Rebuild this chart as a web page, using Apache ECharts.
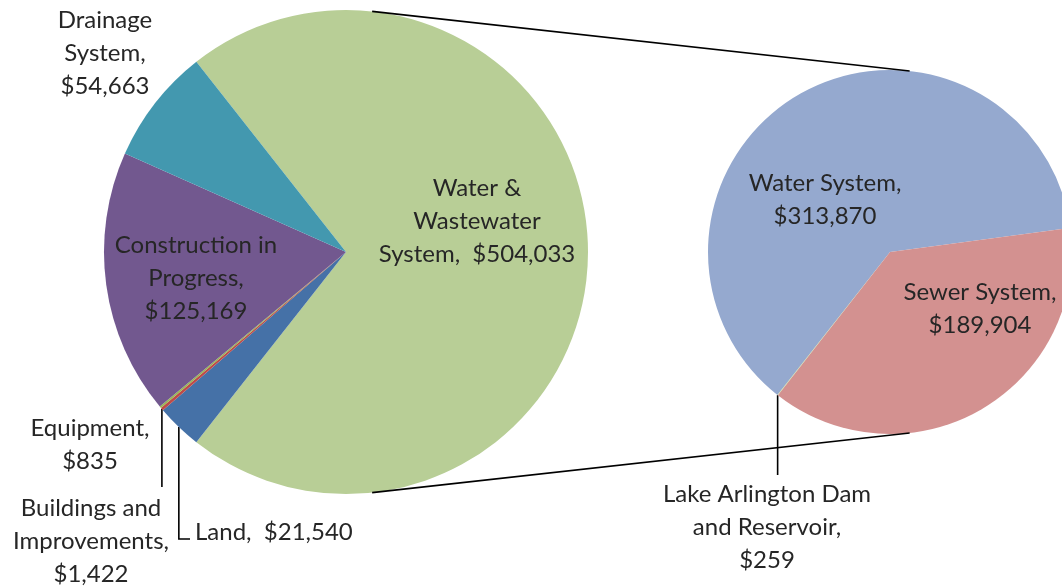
<!DOCTYPE html>
<html>
<head>
<meta charset="utf-8">
<script src="https://cdn.jsdelivr.net/npm/echarts@6/dist/echarts.min.js"></script>
<style>
  html, body { margin: 0; padding: 0; background: #fff; }
  #chart { width: 1062px; height: 586px; }
</style>
</head>
<body>
<div id="chart"></div>
<script>
// capital assets (main pie)
const mainNames = ['Water & Wastewater System', 'Land', 'Buildings and Improvements', 'Equipment', 'Construction in Progress', 'Drainage System'];
const mainValues = [504033, 21540, 1422, 835, 125169, 54663];
const mainLabelText = ['Water &\nWastewater\nSystem,  ', 'Land,  ', 'Buildings and\nImprovements,\n', 'Equipment,\n', 'Construction in\nProgress,\n', 'Drainage\nSystem,\n'];
const mainColors = ['#b8ce96', '#4571a7', '#be4b48', '#98b954', '#72588f', '#4398af'];

// breakdown of water & wastewater (secondary pie)
const subNames = ['Water System', 'Sewer System', 'Lake Arlington Dam and Reservoir'];
const subValues = [313870, 189904, 259];
const subLabelText = ['Water System,\n', 'Sewer System,\n', 'Lake Arlington Dam\nand Reservoir,\n'];
const subColors = ['#95a9cf', '#d39190', '#c3d69b'];

// layout
const MAIN_C = [346, 252], MAIN_R = 242;
const SUB_C = [890, 252], SUB_R = 182;
const CONNECT_DEG = 83.8;
// label anchor: x, y, align, leader line end
const mainLabelPos = [
  [477, 221, 'center'],
  [195, 532, 'left', [[null, 539], [190, 539]]],
  [91, 541, 'center', [[null, 487]]],
  [90, 445, 'center'],
  [196, 278, 'center'],
  [105, 53, 'center']
];
const subLabelPos = [
  [825, 200, 'center'],
  [980, 309, 'center'],
  [767, 527, 'center', [[null, 475]]]
];

const fmt = v => '$' + v.toLocaleString('en-US');

function makeData(names, values, colors, pos) {
  return names.map((n, i) => ({
    name: n,
    value: values[i],
    itemStyle: { color: colors[i] },
    label: { position: pos[i][3] ? 'outside' : 'inside' },
    labelLine: { show: !!pos[i][3] }
  }));
}

function edgePoint(c, r, deg) {
  const a = deg * Math.PI / 180;
  return [c[0] + r * Math.cos(a), c[1] - r * Math.sin(a)];
}

function layoutFor(pos, c, r, values, startAngle) {
  return function (params) {
    const p = pos[params.dataIndex];
    const out = { x: p[0], y: p[1], align: p[2], verticalAlign: 'middle' };
    if (p[3]) {
      let p0 = params.labelLinePoints && params.labelLinePoints[0];
      if (!p0) {
        const total = values.reduce((s, v) => s + v, 0);
        let before = 0;
        for (let k = 0; k < params.dataIndex; k++) before += values[k];
        const mid = startAngle - (before + values[params.dataIndex] / 2) / total * 360;
        p0 = edgePoint(c, r, mid);
      }
      out.labelLinePoints = [p0].concat(p[3].map(q => [q[0] == null ? p0[0] : q[0], q[1]]));
    }
    return out;
  };
}

const labelStyle = {
  fontFamily: 'Lato',
  fontSize: 24,
  lineHeight: 33,
  color: '#262626'
};

const chart = echarts.init(document.getElementById('chart'));
const topA = edgePoint(MAIN_C, MAIN_R, CONNECT_DEG), topB = edgePoint(SUB_C, SUB_R, CONNECT_DEG);
const botA = edgePoint(MAIN_C, MAIN_R, -CONNECT_DEG), botB = edgePoint(SUB_C, SUB_R, -CONNECT_DEG);

chart.setOption({
  animation: false,
  backgroundColor: '#fff',
  series: [
    {
      type: 'pie',
      center: MAIN_C,
      radius: MAIN_R,
      startAngle: 128.2,
      clockwise: true,
      avoidLabelOverlap: false,
      emphasis: { disabled: true },
      label: Object.assign({
        formatter: p => mainLabelText[p.dataIndex] + fmt(p.value)
      }, labelStyle),
      labelLine: { lineStyle: { color: '#000', width: 1.6 }, smooth: false },
      labelLayout: layoutFor(mainLabelPos, MAIN_C, MAIN_R, mainValues, 128.2),
      data: makeData(mainNames, mainValues, mainColors, mainLabelPos)
    },
    {
      type: 'pie',
      center: SUB_C,
      radius: SUB_R,
      startAngle: 231.78,
      clockwise: true,
      avoidLabelOverlap: false,
      emphasis: { disabled: true },
      label: Object.assign({
        formatter: p => subLabelText[p.dataIndex] + fmt(p.value)
      }, labelStyle),
      labelLine: { lineStyle: { color: '#000', width: 1.6 }, smooth: false },
      labelLayout: layoutFor(subLabelPos, SUB_C, SUB_R, subValues, 231.78),
      data: makeData(subNames, subValues, subColors, subLabelPos)
    }
  ],
  graphic: [
    { type: 'line', z: 10, shape: { x1: topA[0], y1: topA[1], x2: topB[0], y2: topB[1] }, style: { stroke: '#000', lineWidth: 1.6 } },
    { type: 'line', z: 10, shape: { x1: botA[0], y1: botA[1], x2: botB[0], y2: botB[1] }, style: { stroke: '#000', lineWidth: 1.6 } }
  ]
});
</script>
</body>
</html>
